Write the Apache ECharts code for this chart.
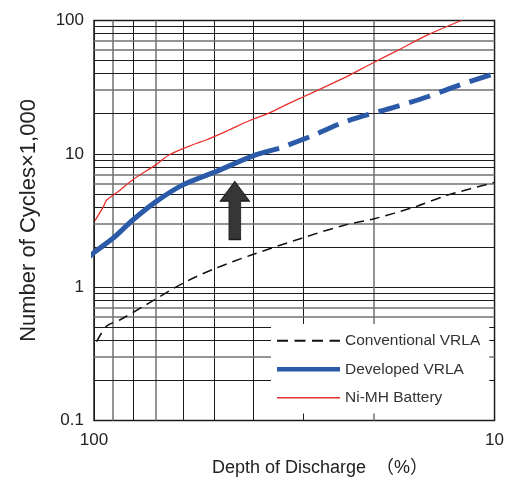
<!DOCTYPE html>
<html><head><meta charset="utf-8">
<script src="https://cdn.jsdelivr.net/npm/echarts@6/dist/echarts.min.js"></script>
<style>html,body{margin:0;padding:0;background:#fff}#c{width:507px;height:481px}</style>
</head><body><div id="c"></div>
<script>
// ---- data ----
const xTickLabels = ['100', '10'];
const yTickLabels = ['0.1', '1', '10', '100'];
const xMinorTicks = [90, 80, 70, 60, 50, 40, 30, 20];
const yMinorTicks = [0.2, 0.3, 0.4, 0.5, 0.6, 0.7, 0.8, 0.9,
                     2, 3, 4, 5, 6, 7, 8, 9,
                     20, 30, 40, 50, 60, 70, 80, 90];
const conventional = [[98.5,0.39],[93,0.51],[86,0.57],[74,0.74],[60,1.07],[49.6,1.39],[40.3,1.75],
                      [30.3,2.33],[23.6,2.93],[20.2,3.23],[15.8,4.0],[13.1,4.9],[10,6.1]];
const developedSolid = [[105.3,1.56],[100.4,1.8],[89.6,2.33],[80,3.19],[70,4.38],[60,5.85],
                        [49.6,7.36],[39.5,9.81],[34.5,11.0]];
const developedDashed = [[34.5,11.0],[28.8,13.5],[23.6,17.4],[17.6,22.6],[14.7,26.8],[12.2,32.9],[10,40]];
const niMH = [[99.4,3.16],[94.8,4.0],[93,4.5],[87.8,5.1],[80,6.4],[70,8.3],[65,9.8],[56.7,11.7],
              [52.5,12.7],[46,15.1],[41,17.7],[36.6,20.2],[32.6,23.9],[30,26.8],[27,31],[23.2,38.4],
              [20.2,47.8],[17.4,60],[14.7,78],[12.1,100]];
const arrowAt = [44.5, 3.76];

// ---- chart ----
const FONT = '"Liberation Sans","Noto Sans CJK JP",sans-serif';
const chart = echarts.init(document.getElementById('c'));
const greyX = new Set([90, 70, 20]);
function mant(v){ return Math.round(v / Math.pow(10, Math.floor(Math.log10(v) + 1e-9))); }
const greyYm = new Set([3, 6, 7]);
const DARK = '#1c1c1c', GREY = '#707070';
const gridLines = [];
xMinorTicks.forEach(v => gridLines.push({xAxis: v, lineStyle: {color: greyX.has(v) ? GREY : DARK, width: greyX.has(v) ? 1.5 : 1, type: 'solid'}}));
yMinorTicks.forEach(v => gridLines.push({yAxis: v, lineStyle: {color: greyYm.has(mant(v)) ? GREY : DARK, width: greyYm.has(mant(v)) ? 1.5 : 1, type: 'solid'}}));

function labelFor(list){
  return v => { const s = list.find(l => Math.abs(Number(l) - v) / v < 1e-6); return s === undefined ? '' : s; };
}

const BLUE = '#2a5aa8', RED = '#e8302a', BLACK = '#111';
const option = {
  animation: false,
  textStyle: {fontFamily: FONT},
  title: {text: 'Depth of Discharge  （%）', left: 212, top: 459, padding: 0,
          textStyle: {fontSize: 18, fontWeight: 'normal', color: '#222', fontFamily: FONT}},
  grid: {left: 94, top: 20.5, width: 404, height: 400, show: true, borderColor: '#222', borderWidth: 1.5},
  legend: {
    data: [
      {name: 'Conventional VRLA', icon: 'path://M0 0H11V2H0Z M17.5 0H28.5V2H17.5Z M35 0H46V2H35Z M52.5 0H63V2H52.5Z'},
      {name: 'Developed VRLA', icon: 'path://M0 0H63V4.5H0Z'},
      {name: 'Ni-MH Battery', icon: 'path://M0 0H63V1.5H0Z'}
    ],
    orient: 'vertical', left: 271, top: 324, padding: [9, 9, 8, 6], z: 10,
    itemWidth: 63, itemHeight: 14, itemGap: 13, selectedMode: false,
    backgroundColor: '#fff', borderWidth: 0,
    textStyle: {fontSize: 15.5, color: '#333', fontFamily: FONT}
  },
  xAxis: {
    type: 'log', logBase: 10, min: 10, max: 100, inverse: true,
    axisLine: {show: false}, axisTick: {show: false},
    splitLine: {show: true, lineStyle: {color: DARK}},
    axisLabel: {color: '#222', fontSize: 17, fontFamily: FONT, margin: 11, formatter: labelFor(xTickLabels)}
  },
  yAxis: {
    type: 'log', logBase: 10, min: 0.1, max: 100,
    name: 'Number of Cycles×1,000', nameLocation: 'middle', nameGap: 54,
    nameTextStyle: {fontSize: 22, color: '#222', fontFamily: FONT},
    axisLine: {show: false}, axisTick: {show: false},
    splitLine: {show: true, lineStyle: {color: DARK}},
    axisLabel: {color: '#222', fontSize: 17, fontFamily: FONT, margin: 10, formatter: labelFor(yTickLabels)}
  },
  series: [
    {name: 'grid', type: 'line', data: [], silent: true, z: 1,
     markLine: {z: 1, silent: true, symbol: ['none', 'none'], label: {show: false}, animation: false, data: gridLines}},
    {name: 'Conventional VRLA', type: 'line', data: conventional, symbol: 'none', smooth: 0.3, z: 3,
     itemStyle: {color: BLACK}, lineStyle: {color: BLACK, width: 1.5, type: [10, 6]}},
    {name: 'Developed VRLA', type: 'line', data: developedSolid, symbol: 'none', smooth: 0.3, clip: false, z: 3,
     itemStyle: {color: BLUE}, lineStyle: {color: BLUE, width: 5}},
    {name: 'Developed VRLA', type: 'line', data: developedDashed, symbol: 'none', smooth: 0.3, z: 3,
     itemStyle: {color: BLUE}, lineStyle: {color: BLUE, width: 5, type: [22, 10], dashOffset: 22}},
    {name: 'Ni-MH Battery', type: 'line', data: niMH, symbol: 'none', smooth: 0.3, z: 3,
     itemStyle: {color: RED}, lineStyle: {color: RED, width: 1.3}},
    {name: 'arrow', type: 'line', data: [], silent: true, z: 4,
     markPoint: {silent: true, animation: false, label: {show: false},
       data: [{coord: arrowAt, symbol: 'path://M14.5 0 L29 19.5 L20.4 19.5 L20.4 58 L8.6 58 L8.6 19.5 L0 19.5 Z',
               symbolSize: [29, 58], itemStyle: {color: '#363636', borderColor: '#1a1a1a', borderWidth: 1}}]}}
  ]
};
chart.setOption(option);
</script></body></html>
